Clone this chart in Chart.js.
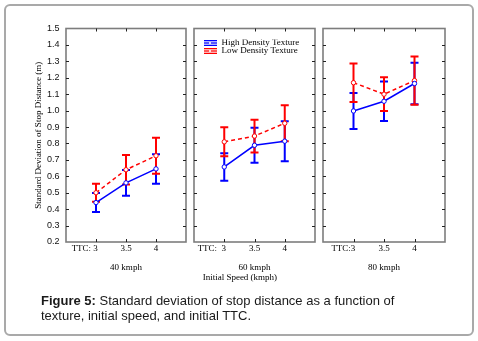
<!DOCTYPE html>
<html><head><meta charset="utf-8">
<script src="https://cdn.jsdelivr.net/npm/chart.js@4.4.1/dist/chart.umd.min.js"></script>
<style>
html,body{margin:0;padding:0;background:#fff;}
body{width:478px;height:341px;position:relative;overflow:hidden;}
#frame{position:absolute;left:4px;top:4px;width:466px;height:328px;border:2px solid #a9a9a9;border-radius:6px;}
canvas{position:absolute;left:0;top:0;}
#cap{position:absolute;left:41px;top:293px;font:13px 'Liberation Sans',Arial,sans-serif;line-height:15px;color:#1a1a1a;white-space:nowrap;}
</style></head><body>
<div id="frame"></div>
<canvas id="c1" width="478" height="290"></canvas>
<canvas id="c2" width="478" height="290"></canvas>
<canvas id="c3" width="478" height="290"></canvas>
<div id="cap"><b>Figure 5:</b> Standard deviation of stop distance as a function of<br>texture, initial speed, and initial TTC.</div>
<script>
// ---- data ----
const seriesNames = ['High Density Texture', 'Low Density Texture'];
const ttcLabels40 = ['TTC: 3', '3.5', '4'];
const ttcLabels60 = ['TTC:  3', '3.5', '4'];
const ttcLabels80 = ['TTC:3', '3.5', '4'];
const speedLabels = ['40 kmph', '60 kmph', '80 kmph'];
const xAxisTitle = 'Initial Speed (kmph)';
const yAxisTitle = 'Standard Deviation of Stop Distance (m)';

const high40 = [0.44, 0.56, 0.645];
const high40Err = [0.058, 0.078, 0.09];
const low40 = [0.50, 0.64, 0.725];
const low40Err = [0.055, 0.09, 0.11];

const high60 = [0.657, 0.789, 0.814];
const high60Err = [0.084, 0.107, 0.122];
const low60 = [0.81, 0.845, 0.923];
const low60Err = [0.088, 0.10, 0.11];

const high80 = [0.998, 1.057, 1.165];
const high80Err = [0.11, 0.12, 0.127];
const low80 = [1.17, 1.10, 1.183];
const low80Err = [0.117, 0.103, 0.147];

// ---- layout / styling ----
const tickLabels = [ttcLabels40, ttcLabels60, ttcLabels80];
const highVals = [high40, high60, high80];
const highErrs = [high40Err, high60Err, high80Err];
const lowVals = [low40, low60, low80];
const lowErrs = [low40Err, low60Err, low80Err];

const panelBox = [{left: 66, right: 186}, {left: 194, right: 315}, {left: 323, right: 445}];
const firstLabelPad = [10, 11, 9];
const AREA_TOP = 28.5, AREA_BOTTOM = 242, CANVAS_H = 290, CANVAS_W = 478, X_AXIS_H = 40;
const BLUE = '#0000ff', RED = '#ff0000';

function toPts(vals) { return vals.map((v, i) => ({x: i + 1, y: v})); }

function glyph(color) {
  const c = document.createElement('canvas');
  c.width = 14; c.height = 6;
  const g = c.getContext('2d');
  g.fillStyle = color;
  g.fillRect(0, 0, 14, 1.3);
  g.fillRect(0, 2.35, 14, 1.3);
  g.fillRect(0, 4.7, 14, 1.3);
  g.fillStyle = '#fff';
  g.fillRect(6, 2.2, 2, 1.6);
  return c;
}
const glyphs = [glyph(BLUE), glyph(RED)];

const framePlugin = {
  id: 'frame',
  beforeDatasetsDraw(chart) {
    const {ctx, chartArea: a, scales: {x, y}} = chart;
    ctx.save();
    ctx.strokeStyle = '#7d7d7d'; ctx.lineWidth = 1.6;
    ctx.strokeRect(a.left, a.top, a.right - a.left, a.bottom - a.top);
    ctx.strokeStyle = '#222'; ctx.lineWidth = 1;
    ctx.beginPath();
    x.ticks.forEach(t => {
      const px = Math.round(x.getPixelForValue(t.value)) + 0.5;
      ctx.moveTo(px, a.top); ctx.lineTo(px, a.top + 3);
      ctx.moveTo(px, a.bottom); ctx.lineTo(px, a.bottom - 3);
    });
    y.ticks.forEach(t => {
      if (t.value < 0.25 || t.value > 1.45) return;
      const py = Math.round(y.getPixelForValue(t.value)) + 0.5;
      ctx.moveTo(a.left, py); ctx.lineTo(a.left + 3, py);
      ctx.moveTo(a.right, py); ctx.lineTo(a.right - 3, py);
    });
    ctx.stroke();
    ctx.restore();
  }
};

const errorBarPlugin = {
  id: 'errbars',
  beforeDatasetsDraw(chart) {
    const {ctx, scales: {x, y}} = chart;
    chart.data.datasets.forEach(ds => {
      ctx.save();
      ctx.strokeStyle = ds.borderColor; ctx.lineWidth = 2; ctx.setLineDash([]);
      ds.data.forEach((pt, i) => {
        const e = ds.errors[i];
        const px = x.getPixelForValue(pt.x);
        const t = y.getPixelForValue(pt.y + e), b = y.getPixelForValue(pt.y - e);
        ctx.beginPath();
        ctx.moveTo(px, t); ctx.lineTo(px, b);
        ctx.moveTo(px - 4, t); ctx.lineTo(px + 4, t);
        ctx.moveTo(px - 4, b); ctx.lineTo(px + 4, b);
        ctx.stroke();
      });
      ctx.restore();
    });
  }
};

const legendPos = {
  id: 'legendPos',
  afterLayout(chart) {
    const lg = chart.legend;
    if (!lg || !lg.options || !lg.options.display) return;
    const a = chart.chartArea;
    const w = lg.width, h = lg.height;
    lg.left = a.left + 10; lg.top = a.top + 11;
    lg.right = lg.left + w; lg.bottom = lg.top + h;
  }
};

const serif9 = {family: "'Liberation Serif', 'Times New Roman', serif", size: 9, lineHeight: 1.05};

function makeChart(p) {
  const P = panelBox[p];
  const first = p === 0;
  const yAxisW = first ? P.left - 30 : 0;
  const padLeft = P.left - yAxisW;
  const labels = tickLabels[p];
  return new Chart(document.getElementById('c' + (p + 1)), {
    type: 'line',
    data: {
      datasets: [
        {label: seriesNames[0], data: toPts(highVals[p]), errors: highErrs[p],
         borderColor: BLUE, borderWidth: 1.5, tension: 0, fill: false,
         pointRadius: 2.2, pointBackgroundColor: '#fff', pointBorderColor: BLUE, pointBorderWidth: 1},
        {label: seriesNames[1], data: toPts(lowVals[p]), errors: lowErrs[p],
         borderColor: RED, borderWidth: 1.5, borderDash: [4, 3], tension: 0, fill: false,
         pointRadius: 2.2, pointBackgroundColor: '#fff', pointBorderColor: RED, pointBorderWidth: 1}
      ]
    },
    options: {
      responsive: false, animation: false, devicePixelRatio: 1,
      events: [],
      layout: {padding: {left: padLeft, right: CANVAS_W - P.right, top: AREA_TOP, bottom: CANVAS_H - AREA_BOTTOM - X_AXIS_H}},
      plugins: {
        tooltip: {enabled: false},
        legend: {
          display: p === 1, position: 'chartArea', align: 'start',
          labels: {
            usePointStyle: true, pointStyleWidth: 14, boxHeight: 9, padding: -1,
            color: '#000', font: {family: serif9.family, size: 9},
            generateLabels(chart) {
              const items = Chart.defaults.plugins.legend.labels.generateLabels(chart);
              items.forEach((it, i) => { it.pointStyle = glyphs[i]; });
              return items;
            }
          }
        }
      },
      scales: {
        x: {
          type: 'linear', min: 0, max: 4,
          grid: {display: false, drawTicks: false}, border: {display: false},
          afterBuildTicks(s) { s.ticks = [1, 2, 3].map(v => ({value: v})); },
          ticks: {
            autoSkip: false, maxRotation: 0, padding: 1.5, color: '#000', font: serif9,
            callback(v, i) { return i === 0 ? labels[0] + ' '.repeat(firstLabelPad[p]) : labels[i]; }
          },
          title: {
            display: true, color: '#000', font: serif9,
            text: p === 1 ? [speedLabels[1], xAxisTitle + ' '.repeat(13)] : speedLabels[p],
            padding: {top: 0, bottom: p === 1 ? 0.1 : 9.6}
          },
          afterFit(s) { s.height = X_AXIS_H; }
        },
        y: {
          min: 0.2, max: 1.5,
          grid: {display: false, drawTicks: false}, border: {display: false},
          ticks: {
            display: first, stepSize: 0.1, maxTicksLimit: 20, padding: 6.5, color: '#111',
            font: {family: "'Liberation Sans', Arial, sans-serif", size: 9},
            callback(v) { return v.toFixed(1); }
          },
          title: {display: first, text: yAxisTitle, color: '#000',
                  font: {family: serif9.family, size: 9, lineHeight: 1.2}, padding: {top: 3.6, bottom: 0}},
          afterFit(s) { s.width = yAxisW; }
        }
      }
    },
    plugins: [framePlugin, errorBarPlugin, legendPos]
  });
}
[0, 1, 2].forEach(makeChart);
</script>
</body></html>
